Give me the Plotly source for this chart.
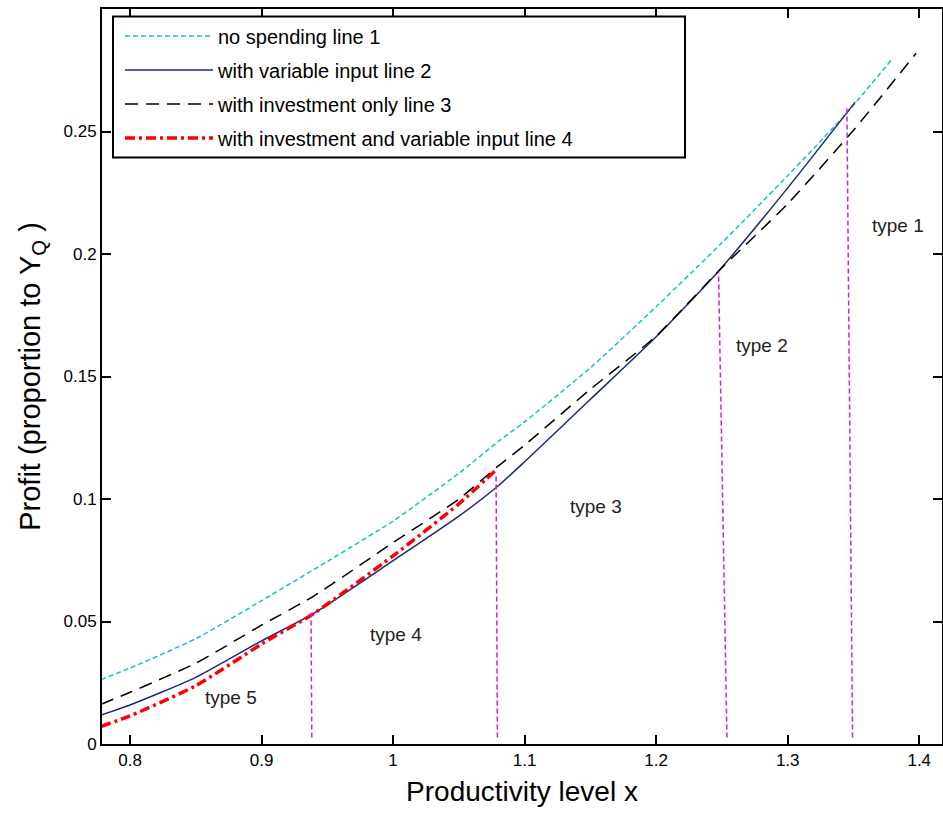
import plotly.graph_objects as go

# ---- data ----
x_line1 = [0.778, 0.80, 0.85, 0.90, 0.95, 1.00, 1.05, 1.08, 1.10, 1.15, 1.20, 1.25, 1.30, 1.345, 1.38]
y_line1 = [0.0263, 0.0310, 0.0430, 0.0585, 0.0745, 0.0910, 0.1105, 0.1235, 0.1315, 0.1536, 0.1785, 0.2046, 0.2320, 0.2576, 0.2800]

x_line2 = [0.778, 0.80, 0.85, 0.90, 0.94, 1.00, 1.05, 1.08, 1.10, 1.15, 1.20, 1.2474, 1.30, 1.3513]
y_line2 = [0.0118, 0.0159, 0.0272, 0.0421, 0.0534, 0.0748, 0.0930, 0.1054, 0.1152, 0.1407, 0.1662, 0.1930, 0.2270, 0.2620]

x_line3 = [0.778, 0.80, 0.85, 0.90, 0.94, 1.00, 1.05, 1.08, 1.10, 1.15, 1.20, 1.2474, 1.30, 1.35, 1.3977]
y_line3 = [0.0162, 0.0211, 0.0330, 0.0485, 0.0605, 0.0822, 0.1000, 0.1135, 0.1220, 0.1448, 0.1665, 0.1930, 0.2205, 0.2505, 0.2820]

x_line4 = [0.778, 0.80, 0.85, 0.90, 0.94, 1.00, 1.05, 1.0789]
y_line4 = [0.0072, 0.0115, 0.0238, 0.0408, 0.0534, 0.0768, 0.0980, 0.1122]

# type boundaries (slightly slanted dashed magenta lines)
bound_x_bottom = [0.9382, 1.0793, 1.2538, 1.3493]
bound_x_top = [0.9376, 1.0783, 1.2474, 1.3450]
bound_y_bottom = 0.0027
bound_y_top = [0.0536, 0.1100, 0.1930, 0.2597]

type_labels = ["type 1", "type 2", "type 3", "type 4", "type 5"]
type_x = [1.384, 1.2806, 1.1544, 1.0023, 0.8768]
type_y = [0.2117, 0.1627, 0.0970, 0.0445, 0.0188]

legend_names = ["no spending line 1", "with variable input line 2",
                "with investment only line 3", "with investment and variable input line 4"]

x_tickvals = [0.8, 0.9, 1.0, 1.1, 1.2, 1.3, 1.4]
x_ticktext = ["0.8", "0.9", "1", "1.1", "1.2", "1.3", "1.4"]
y_tickvals = [0, 0.05, 0.1, 0.15, 0.2, 0.25]
y_ticktext = ["0", "0.05", "0.1", "0.15", "0.2", "0.25"]

FONT = "Liberation Sans, Arial, Helvetica, sans-serif"
SMOOTH = 0.6

fig = go.Figure()

fig.add_trace(go.Scatter(x=x_line1, y=y_line1, mode="lines", name=legend_names[0],
                         line=dict(color="#10c4c4", width=1.5, dash="5px,3px", shape="spline", smoothing=SMOOTH),
                         legendgroup="a"))
fig.add_trace(go.Scatter(x=x_line2, y=y_line2, mode="lines", name=legend_names[1],
                         line=dict(color="#1c2a78", width=1.5, shape="spline", smoothing=SMOOTH),
                         legendgroup="b"))
fig.add_trace(go.Scatter(x=x_line3, y=y_line3, mode="lines", name=legend_names[2],
                         line=dict(color="black", width=1.5, dash="13px,8px", shape="spline", smoothing=SMOOTH),
                         legendgroup="c"))
fig.add_trace(go.Scatter(x=x_line4, y=y_line4, mode="lines", name=legend_names[3],
                         line=dict(color="#ff0000", width=3.5, dash="10px,4px,3px,4px", shape="spline", smoothing=SMOOTH),
                         legendgroup="d"))

for xb, xt, yt in zip(bound_x_bottom, bound_x_top, bound_y_top):
    fig.add_trace(go.Scatter(x=[xb, xt], y=[bound_y_bottom, yt], mode="lines",
                             line=dict(color="#d020d0", width=1.5, dash="5px,3px"),
                             showlegend=False, hoverinfo="skip"))

for t, tx, ty in zip(type_labels, type_x, type_y):
    fig.add_annotation(x=tx, y=ty, xref="x", yref="y", text=t, showarrow=False,
                       font=dict(family=FONT, size=19, color="#222"))

# legend box (white with black border)
fig.add_shape(type="rect", xref="paper", yref="paper",
              x0=(113 - 102) / 840, x1=(685 - 102) / 840,
              y0=(745 - 158) / 735.6, y1=(745 - 17) / 735.6,
              line=dict(color="black", width=2), fillcolor="white", layer="above")

fig.update_layout(
    width=943, height=814,
    margin=dict(l=102, r=1, t=9, b=70),
    paper_bgcolor="white", plot_bgcolor="white",
    font=dict(family=FONT, size=17, color="black"),
    showlegend=True,
    legend=dict(x=(120 - 102) / 840, y=(745 - 17) / 735.6, xanchor="left", yanchor="top",
                bgcolor="rgba(0,0,0,0)", borderwidth=0,
                font=dict(family=FONT, size=20, color="black"),
                itemwidth=88, tracegroupgap=5),
)

fig.update_xaxes(range=[0.7787, 1.4173], tickvals=x_tickvals, ticktext=x_ticktext,
                 showgrid=False, zeroline=False, showline=True, linecolor="black", linewidth=2,
                 mirror="ticks", ticks="inside", ticklen=9, tickwidth=1.5, tickcolor="black",
                 tickfont=dict(family=FONT, size=17), automargin=False,
                 title=dict(text="Productivity level x", font=dict(family=FONT, size=28), standoff=12))
fig.update_yaxes(range=[0, 0.3], tickvals=y_tickvals, ticktext=y_ticktext,
                 showgrid=False, zeroline=False, showline=True, linecolor="black", linewidth=2,
                 mirror="ticks", ticks="inside", ticklen=9, tickwidth=1.5, tickcolor="black",
                 tickfont=dict(family=FONT, size=17), automargin=False,
                 title=dict(text="Profit (proportion to Y<sub>Q</sub> )", font=dict(family=FONT, size=29), standoff=14))

fig.write_html("out.html", config={"displayModeBar": False},
               post_script="document.body.style.margin='0';document.body.style.overflow='hidden';")
